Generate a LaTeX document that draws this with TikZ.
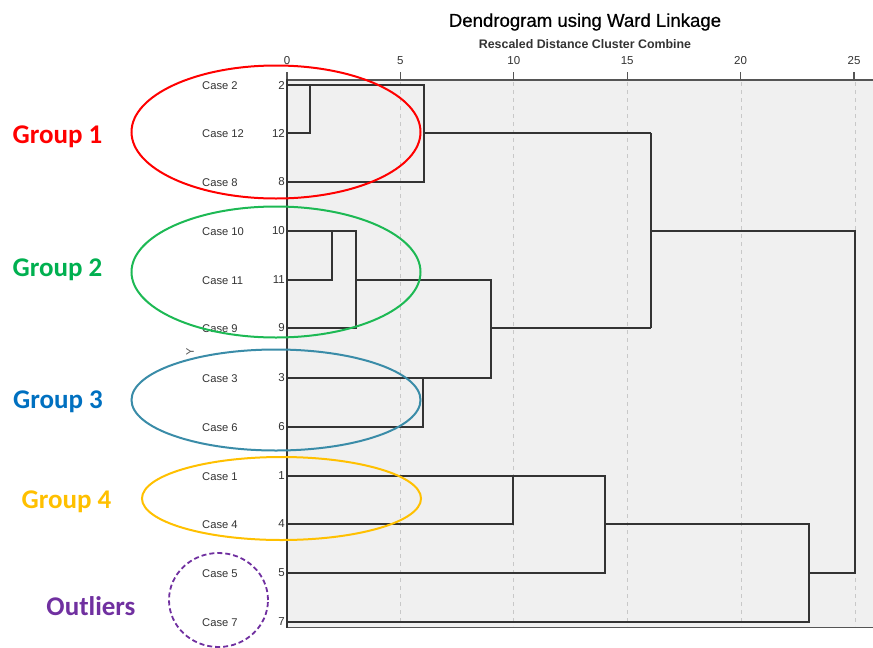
\documentclass[tikz,border=0pt]{standalone}
\usepackage{fontspec}
\setmainfont{Liberation Sans}
\newfontfamily\grpfont{Carlito}
\definecolor{plotbg}{HTML}{F0F0F0}
\definecolor{gridc}{HTML}{C8C8C8}
\definecolor{axisc}{HTML}{555555}
\definecolor{linkc}{HTML}{333333}
\definecolor{txtc}{HTML}{333333}
\definecolor{g1c}{HTML}{FF0000}
\definecolor{g2c}{HTML}{00B050}
\definecolor{g2e}{HTML}{1DB954}
\definecolor{g3c}{HTML}{0070C0}
\definecolor{g3e}{HTML}{3A8CA8}
\definecolor{g4c}{HTML}{FFC000}
\definecolor{outc}{HTML}{7030A0}
\tikzset{
  link/.style={draw=linkc, line width=1.1pt, line join=miter},
  gridln/.style={draw=gridc, line width=0.8pt, dash pattern=on 4pt off 4pt},
  caselbl/.style={anchor=west, inner sep=0pt, text=txtc, font=\fontsize{11.2}{12}\selectfont},
  numlbl/.style={anchor=east, inner sep=0pt, text=txtc, font=\fontsize{11.5}{12}\selectfont},
  ticklbl/.style={inner sep=0pt, text=txtc, font=\fontsize{11.5}{12}\selectfont},
  grplbl/.style={inner sep=0pt, font=\grpfont\bfseries\fontsize{27}{30}\selectfont},
  ring/.style={line width=2pt},
}
\begin{document}
\begin{tikzpicture}[x=1pt,y=-1pt]
\useasboundingbox (0,0) rectangle (873,648);

% plot area
\fill[plotbg] (287,80) rectangle (873,627);
\foreach \gx in {400,513,627,741,855}
  \draw[gridln] (\gx,82) -- (\gx,626);

% titles
\node[inner sep=0pt, text=black, font=\fontsize{18.6}{20}\selectfont\addfontfeature{FakeBold=0.6}] (title) at (585,22) {Dendrogram using Ward Linkage};
\node[inner sep=0pt, text=txtc, font=\bfseries\fontsize{12.4}{13}\selectfont] (subtitle) at (585,44) {Rescaled Distance Cluster Combine};

% distance axis
\draw[axisc, line width=1.5pt] (287,80) -- (873,80);
\draw[axisc, line width=1pt] (287,627) -- (873,627);
\foreach \v [count=\i] in {0,5,10,15,20,25} {
  \pgfmathsetmacro{\tx}{287+22.68*\v}
  \draw[axisc, line width=1.2pt] (\tx,72) -- (\tx,80);
  \node[ticklbl] (tick\i) at (\tx,61) {\v};
}
\draw[linkc, line width=1.6pt] (287,79) -- (287,628);

% leaf anchors on the axis
\foreach \c/\yy in {2/85,12/133,8/182,10/231,11/280,9/328,3/378,6/427,1/476,4/524,5/573,7/622}
  \coordinate (a\c) at (287,\yy);

% merge columns
\foreach \n/\xx in {A/310,B/424,C/332,D/356,E/423,F/491,G/651,H/855,I/513,J/605,K/809}
  \coordinate (\n) at (\xx,0);

% case labels and numbers
\foreach \c in {2,12,8,10,11,9,3,6,1,4,5,7} {
  \node[caselbl] (case\c) at ([xshift=-85pt,yshift=-1pt]a\c) {Case \c};
  \node[numlbl] (num\c) at ([xshift=-2pt]a\c) {\c};
}

% small rotated axis letter
\node[inner sep=0pt, text=axisc, rotate=90, font=\fontsize{11}{12}\selectfont] (ylbl) at (190,352) {Y};

% tree
\draw[link] (a2) -- (a2 -| B) -- (a8 -| B) -- (a8);
\draw[link] (a2 -| A) -- (a12 -| A) -- (a12);
\draw[link] (a12 -| B) -- (a12 -| G);
\draw[link] (a10) -- (a10 -| D) -- (a9 -| D) -- (a9);
\draw[link] (a10 -| C) -- (a11 -| C) -- (a11);
\draw[link] (a11 -| D) -- (a11 -| F) -- (a3 -| F) -- (a3);
\draw[link] (a3 -| E) -- (a6 -| E) -- (a6);
\draw[link] (a9 -| F) -- (a9 -| G);
\draw[link] (a12 -| G) -- (a9 -| G);
\draw[link, line width=1.4pt] (a10 -| G) -- (a10 -| H) -- (a5 -| H) -- (a5 -| K);
\draw[link] (a1) -- (a1 -| J) -- (a5 -| J) -- (a5);
\draw[link] (a1 -| I) -- (a4 -| I) -- (a4);
\draw[link] (a4 -| J) -- (a4 -| K) -- (a7 -| K) -- (a7);

% group rings
\draw[ring, g1c] (276,132) ellipse [x radius=144.5pt, y radius=66.5pt];
\draw[ring, g2e] (276,272) ellipse [x radius=144.5pt, y radius=65.5pt];
\draw[ring, g3e] (276,400) ellipse [x radius=144.5pt, y radius=50.5pt];
\draw[ring, g4c] (281.5,498.5) ellipse [x radius=139.5pt, y radius=41.5pt];
\draw[ring, outc, line width=1.8pt, dash pattern=on 5pt off 3pt] (218.5,600) ellipse [x radius=49.5pt, y radius=47pt];

% group names
\node[grplbl, text=g1c] (grp1) at (57.5,137) {Group 1};
\node[grplbl, text=g2c] (grp2) at (57.5,270) {Group 2};
\node[grplbl, text=g3c] (grp3) at (58,402) {Group 3};
\node[grplbl, text=g4c] (grp4) at (66.5,502) {Group 4};
\node[grplbl, text=outc] (grp5) at (91,606) {Outliers};
\end{tikzpicture}
\end{document}
